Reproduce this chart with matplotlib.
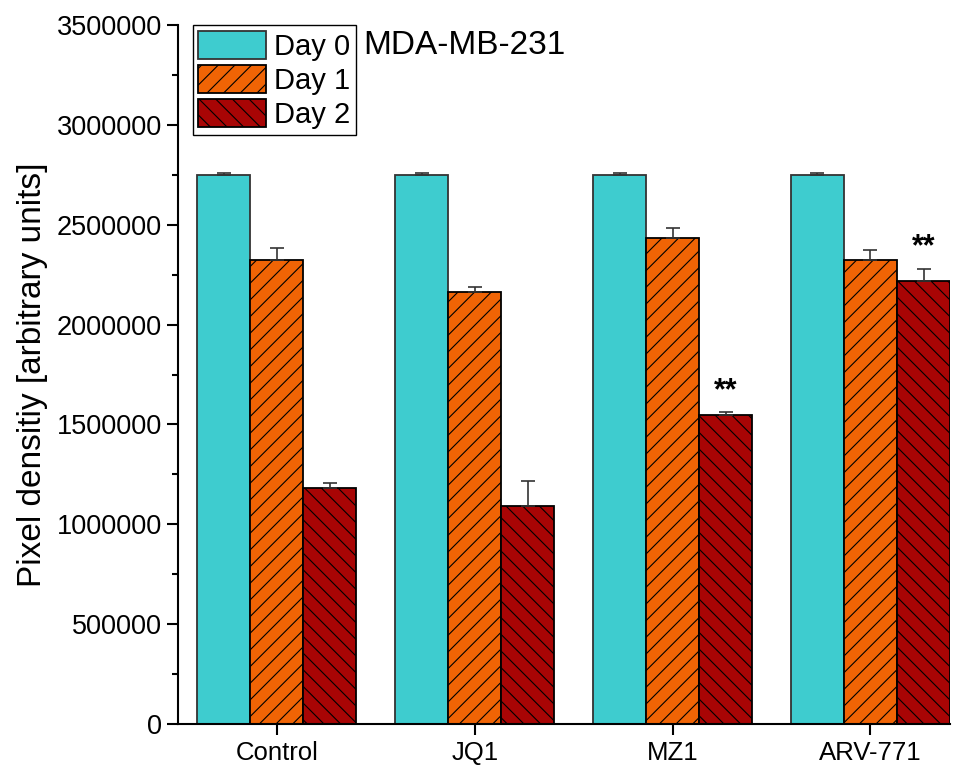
import matplotlib
matplotlib.use("Agg")
import matplotlib.pyplot as plt
import numpy as np

plt.rcParams['font.family'] = ['Liberation Sans', 'DejaVu Sans']
plt.rcParams['hatch.linewidth'] = 0.8

categories = ['Control', 'JQ1', 'MZ1', 'ARV-771']
series = ['Day 0', 'Day 1', 'Day 2']
day0 = [2750000, 2750000, 2750000, 2750000]
day1 = [2325000, 2165000, 2435000, 2325000]
day2 = [1180000, 1090000, 1548000, 2220000]
err0 = [8000, 8000, 8000, 8000]
err1 = [60000, 25000, 50000, 50000]
err2 = [25000, 125000, 15000, 60000]
stars = ['', '', '**', '**']

colors = ['#3ECCCF', '#F06405', '#A80505']
edges = ['#333333', 'black', 'black']
hatches = [None, '//', '\\\\']

fig = plt.figure(figsize=(9.6, 7.69), dpi=100)
ax = fig.add_axes([0.1854, 0.0585, 0.8042, 0.909])

x = np.arange(len(categories))
w = 0.268
vals = [day0, day1, day2]
errs = [err0, err1, err2]
for i in range(3):
    pos = x + (i - 1) * w
    ax.bar(pos, vals[i], width=w, color=colors[i], edgecolor=edges[i],
           linewidth=1.3, hatch=hatches[i], label=series[i], zorder=2)
    ax.errorbar(pos, vals[i], yerr=[np.zeros(4), errs[i]], fmt='none',
                ecolor='#333333', elinewidth=1.2, capsize=5, capthick=1.2, zorder=3)

for j, s in enumerate(stars):
    if s:
        ax.text(x[j] + w, day2[j] + err2[j] + 30000, s, ha='center',
                va='bottom', fontsize=22, fontweight='bold')

ax.set_xlim(-0.5, x[-1] + 1.5 * w)
ax.set_ylim(0, 3500000)
ax.set_yticks(np.arange(0, 3500001, 500000))
ax.set_yticks(np.arange(250000, 3500000, 500000), minor=True)
ax.yaxis.set_major_formatter(matplotlib.ticker.FuncFormatter(lambda v, p: '%d' % v))
ax.set_xticks(x)
ax.set_xticklabels(categories)
ax.tick_params(axis='both', labelsize=19.5, width=1.5, length=8, direction='out')
ax.tick_params(axis='y', which='minor', width=1.5, length=4)
ax.tick_params(axis='x', labelsize=18.5, pad=4)
for sp in ['top', 'right']:
    ax.spines[sp].set_visible(False)
for sp in ['left', 'bottom']:
    ax.spines[sp].set_linewidth(1.5)
ax.set_ylabel('Pixel densitiy [arbitrary units]', fontsize=24, labelpad=6)

leg = ax.legend(loc='upper left', bbox_to_anchor=(0.019, 1.0), fontsize=21,
                handlelength=2.3, handleheight=1.1, labelspacing=0.14,
                borderpad=0.2, handletextpad=0.3, borderaxespad=0.0,
                fancybox=False, edgecolor='black', framealpha=1)
leg.get_frame().set_linewidth(1.0)

ax.text(0.24, 0.97, 'MDA-MB-231', transform=ax.transAxes, fontsize=24,
        ha='left', va='center')

fig.savefig('out.png', dpi=100)
